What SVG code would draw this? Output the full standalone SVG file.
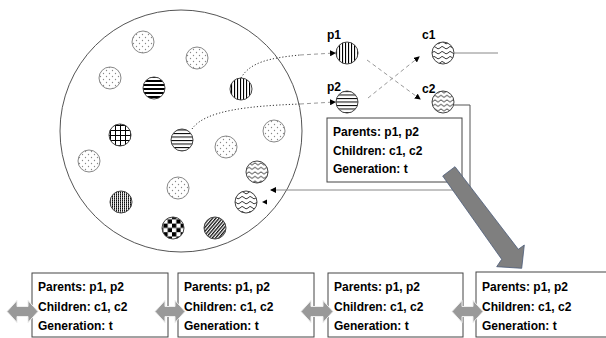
<svg xmlns="http://www.w3.org/2000/svg" width="606" height="338" viewBox="0 0 606 338">
<style>
.lbl{font-family:"Liberation Sans",Arial,sans-serif;font-weight:bold;font-size:12px;fill:#000}
.box{fill:#fff;stroke:#444;stroke-width:1}
.ball{stroke:#444;stroke-width:1}
.dotball{fill:url(#dots);stroke:#888;stroke-width:1}
.dotln{fill:none;stroke:#333;stroke-width:1;stroke-dasharray:1.2,2}
.dashln{fill:none;stroke:#999;stroke-width:1;stroke-dasharray:4,3}
.ln{fill:none;stroke:#888;stroke-width:1}
.dbl{fill:#999;stroke:#eee;stroke-width:1}
</style>
<defs>
<pattern id="dots" patternUnits="userSpaceOnUse" width="6" height="6">
<rect width="6" height="6" fill="#fff"/>
<circle cx="1.5" cy="1.5" r="0.65" fill="#888"/>
<circle cx="4.5" cy="4.5" r="0.65" fill="#888"/>
</pattern>
<pattern id="hthick" patternUnits="userSpaceOnUse" width="4" height="4">
<rect width="4" height="4" fill="#fff"/>
<rect width="4" height="2" fill="#000"/>
</pattern>
<pattern id="hthin" patternUnits="userSpaceOnUse" width="4" height="3.5">
<rect width="4" height="3.5" fill="#fff"/>
<rect width="4" height="1" fill="#000"/>
</pattern>
<pattern id="vstr" patternUnits="userSpaceOnUse" width="3" height="4">
<rect width="3" height="4" fill="#fff"/>
<rect width="1.1" height="4" fill="#000"/>
</pattern>
<pattern id="grid" patternUnits="userSpaceOnUse" width="5" height="5">
<rect width="5" height="5" fill="#fff"/>
<rect width="5" height="1" fill="#000"/>
<rect width="1" height="5" fill="#000"/>
</pattern>
<pattern id="fine" patternUnits="userSpaceOnUse" width="2" height="2">
<rect width="2" height="2" fill="#eee"/>
<rect width="1" height="2" fill="#555"/>
<rect width="1" height="1" fill="#111"/>
</pattern>
<pattern id="check" patternUnits="userSpaceOnUse" width="8.6" height="8.6">
<rect width="8.6" height="8.6" fill="#fff"/>
<rect width="4.3" height="4.3" fill="#000"/>
<rect x="4.3" y="4.3" width="4.3" height="4.3" fill="#000"/>
</pattern>
<pattern id="diag" patternUnits="userSpaceOnUse" width="2.5" height="4" patternTransform="rotate(40)">
<rect width="2.5" height="4" fill="#fff"/>
<rect width="1.3" height="4" fill="#111"/>
</pattern>
<pattern id="zig" patternUnits="userSpaceOnUse" width="6" height="4.5">
<rect width="6" height="4.5" fill="#fff"/>
<polyline points="0,3 3,0.8 6,3" fill="none" stroke="#222" stroke-width="0.9"/>
</pattern>
<pattern id="wave" patternUnits="userSpaceOnUse" width="8" height="5">
<rect width="8" height="5" fill="#fff"/>
<path d="M0,3 Q2,0 4,2.5 T8,3" fill="none" stroke="#222" stroke-width="0.9"/>
</pattern>
<marker id="ah" markerWidth="6" markerHeight="6" refX="5" refY="3" orient="auto" markerUnits="userSpaceOnUse">
<path d="M0,0 L6,3 L0,6 Z" fill="#000"/>
</marker>
</defs>

<g id="population">
<circle cx="181" cy="131" r="121" fill="#fff" stroke="#555" stroke-width="1"/>
</g>

<g id="individuals">
<circle class="dotball" cx="143" cy="42" r="11"/>
<circle class="dotball" cx="197" cy="58" r="11"/>
<circle class="dotball" cx="110" cy="78" r="11"/>
<circle class="ball" cx="154" cy="88" r="11" fill="url(#hthick)"/>
<circle class="ball" cx="241" cy="89" r="11" fill="url(#vstr)"/>
<circle class="ball" cx="120" cy="135" r="11" fill="url(#grid)"/>
<circle class="ball" cx="182" cy="140" r="11" fill="url(#hthin)"/>
<circle class="dotball" cx="274" cy="131" r="11"/>
<circle class="dotball" cx="226" cy="147" r="11"/>
<circle class="dotball" cx="89" cy="161" r="11"/>
<circle class="ball" cx="257" cy="172" r="11" fill="url(#zig)"/>
<circle class="dotball" cx="178" cy="188" r="11"/>
<circle class="ball" cx="121" cy="202" r="11" fill="url(#fine)"/>
<circle class="ball" cx="246" cy="202" r="11" fill="url(#wave)"/>
<circle class="ball" cx="173" cy="228" r="11" fill="url(#check)"/>
<circle class="ball" cx="215" cy="228" r="11" fill="url(#diag)"/>
</g>

<g id="p1"><circle class="ball" cx="347" cy="53" r="11" fill="url(#vstr)"/><text class="lbl" x="327" y="39">p1</text></g>
<g id="p2"><circle class="ball" cx="347" cy="102" r="11" fill="url(#hthin)"/><text class="lbl" x="327" y="91">p2</text></g>
<g id="c1"><circle class="ball" cx="443" cy="53" r="11" fill="url(#wave)"/><text class="lbl" x="422" y="39">c1</text></g>
<g id="c2"><circle class="ball" cx="443" cy="102" r="11" fill="url(#zig)"/><text class="lbl" x="422" y="93">c2</text></g>

<g id="connectors">
<path class="dotln" d="M241,78 C250,62 270,58 300,55"/>
<path class="dashln" d="M300,55 L335,53" marker-end="url(#ah)"/>
<path class="dotln" d="M192,129 C205,110 250,106 300,104"/>
<path class="dashln" d="M300,104 L335,102" marker-end="url(#ah)"/>
<path class="dashln" d="M367,60 L420,99" marker-end="url(#ah)"/>
<path class="dashln" d="M368,98 L419,57" marker-end="url(#ah)"/>
<path class="ln" d="M454,53 L498,53"/>
<path fill="none" stroke="#555" stroke-width="1" d="M454,105 L470,105 L470,190"/>
<path class="ln" d="M470,190 L271,190" marker-end="url(#ah)"/>
<path d="M262,202 L267,199.5 L267,204.5 Z" fill="#000"/>
</g>

<g id="info-top">
<rect class="box" x="327" y="118" width="135" height="64"/>
<text class="lbl" x="333" y="136">Parents: p1, p2</text>
<text class="lbl" x="333" y="155">Children: c1, c2</text>
<text class="lbl" x="333" y="173">Generation: t</text>
</g>

<g id="big-arrow">
<polygon points="442.7,176 455,166.7 518.3,249.3 524.3,245 521.7,268.3 496.7,266.7 501.7,259.3" fill="#7f7f7f" stroke="#4a5a78" stroke-width="0.8"/>
</g>

<g id="box1">
<rect class="box" x="32" y="273" width="136" height="64"/>
<text class="lbl" x="38" y="291">Parents: p1, p2</text>
<text class="lbl" x="38" y="311">Children: c1, c2</text>
<text class="lbl" x="38" y="330">Generation: t</text>
</g>
<g id="box2">
<rect class="box" x="178" y="273" width="136" height="64"/>
<text class="lbl" x="184" y="291">Parents: p1, p2</text>
<text class="lbl" x="184" y="311">Children: c1, c2</text>
<text class="lbl" x="184" y="330">Generation: t</text>
</g>
<g id="box3">
<rect class="box" x="328" y="273" width="135" height="64"/>
<text class="lbl" x="334" y="291">Parents: p1, p2</text>
<text class="lbl" x="334" y="311">Children: c1, c2</text>
<text class="lbl" x="334" y="330">Generation: t</text>
</g>
<g id="box4">
<rect class="box" x="476" y="272" width="135" height="65"/>
<text class="lbl" x="482" y="291">Parents: p1, p2</text>
<text class="lbl" x="482" y="311">Children: c1, c2</text>
<text class="lbl" x="482" y="330">Generation: t</text>
</g>

<g id="links">
<path class="dbl" d="M7,311.5 L17,300.5 L17,306.5 L28,306.5 L28,300.5 L38,311.5 L28,322.5 L28,316.5 L17,316.5 L17,322.5 Z"/>
<path class="dbl" d="M155,311.5 L165,300.5 L165,306.5 L175,306.5 L175,300.5 L185,311.5 L175,322.5 L175,316.5 L165,316.5 L165,322.5 Z"/>
<path class="dbl" d="M301,311.5 L311,300.5 L311,306.5 L323,306.5 L323,300.5 L333,311.5 L323,322.5 L323,316.5 L311,316.5 L311,322.5 Z"/>
<path class="dbl" d="M452,311.5 L462,300.5 L462,306.5 L473,306.5 L473,300.5 L483,311.5 L473,322.5 L473,316.5 L462,316.5 L462,322.5 Z"/>
</g>
</svg>
